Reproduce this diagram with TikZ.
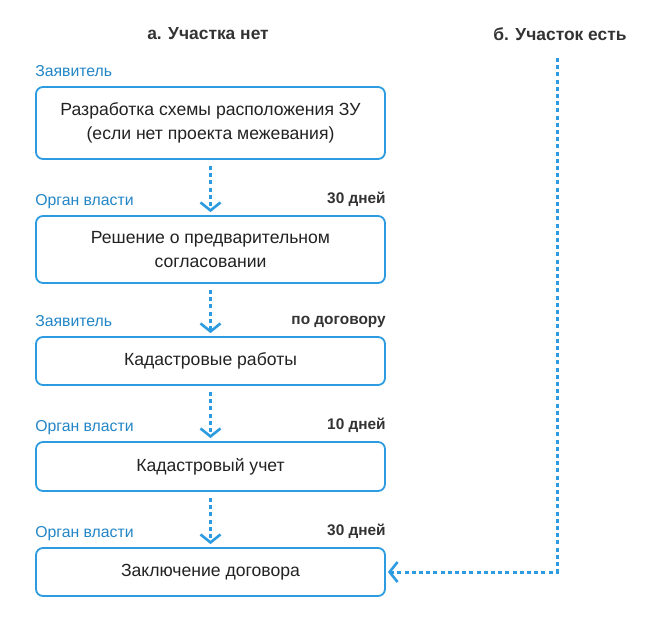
\documentclass[tikz,border=0pt]{standalone}
\usepackage{fontspec}
\setmainfont{Liberation Sans}
\usetikzlibrary{arrows.meta,positioning}
\definecolor{stepblue}{HTML}{2C9BE0}
\definecolor{labelblue}{HTML}{2285C6}
\definecolor{darktext}{HTML}{222222}
\definecolor{termtext}{HTML}{333333}
\tikzset{
  stage/.style={draw=stepblue, line width=1.8pt, rounded corners=7pt, minimum width=349pt,
    align=center, text=darktext, font=\fontsize{17.6}{24}\selectfont, inner sep=0pt},
  who/.style={anchor=base west, text=labelblue, font=\fontsize{15.8}{18}\selectfont, inner sep=0pt},
  term/.style={anchor=base east, text=termtext, font=\bfseries\fontsize{15.4}{18}\selectfont, inner sep=0pt},
  head/.style={text=termtext, font=\bfseries\fontsize{17.4}{20}\selectfont},
  flow/.style={draw=stepblue, line width=3pt, dash pattern=on 4pt off 3.2pt,
    -{Straight Barb[length=8pt,width=20pt,line width=2.6pt]}}
}
\begin{document}
\begin{tikzpicture}[x=1pt, y=-1pt]
    \useasboundingbox (0,0) rectangle (660,630);

    % headers
    \node[head] (headA) at (208,34) {а. Участка нет};
    \node[head] (headB) at (560,34) {б. Участок есть};

    % stages
    \node[stage, minimum height=72pt] (s1) at (210.5,123) {Разработка схемы расположения ЗУ\\(если нет проекта межевания)};
    \node[stage, minimum height=67pt] (s2) at (210.5,249.5) {Решение о предварительном\\согласовании};
    \node[stage, minimum height=48pt] (s3) at (210.5,361) {Кадастровые работы};
    \node[stage, minimum height=49pt] (s4) at (210.5,466.5) {Кадастровый учет};
    \node[stage, minimum height=48pt] (s5) at (210.5,572) {Заключение договора};

    % who does it
    \node[who, yshift=10pt] (w1) at (s1.north west) {Заявитель};
    \node[who, yshift=10pt] (w2) at (s2.north west) {Орган власти};
    \node[who, yshift=10pt] (w3) at (s3.north west) {Заявитель};
    \node[who, yshift=10pt] (w4) at (s4.north west) {Орган власти};
    \node[who, yshift=10pt] (w5) at (s5.north west) {Орган власти};

    % how long
    \node[term, yshift=12pt] (t2) at (s2.north east) {30 дней};
    \node[term, yshift=12pt] (t3) at (s3.north east) {по договору};
    \node[term, yshift=12pt] (t4) at (s4.north east) {10 дней};
    \node[term, yshift=12pt] (t5) at (s5.north east) {30 дней};

    \draw[flow, shorten <=6pt, shorten >=3pt] (s1) -- (s2);
    \draw[flow, shorten <=6pt, shorten >=3pt] (s2) -- (s3);
    \draw[flow, shorten <=6pt, shorten >=3pt] (s3) -- (s4);
    \draw[flow, shorten <=6pt, shorten >=3pt] (s4) -- (s5);

    \coordinate (fromB) at (557,58);
    \draw[flow, shorten >=2pt] (fromB) |- (s5.east);
\end{tikzpicture}
\end{document}
